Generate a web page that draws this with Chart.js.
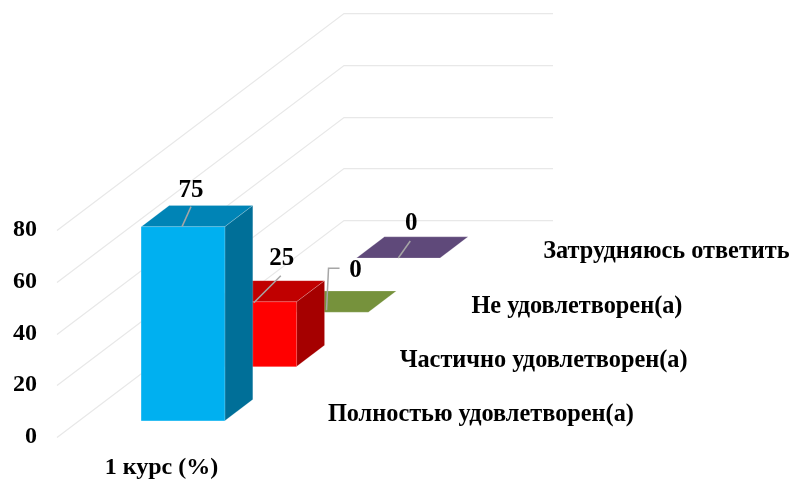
<!DOCTYPE html>
<html>
<head>
<meta charset="utf-8">
<title>1 курс (%)</title>
<script src="https://cdn.jsdelivr.net/npm/chart.js@4"></script>
<style>
  html, body { margin: 0; padding: 0; background: #fff; }
  #wrap { width: 792px; height: 481px; }
</style>
</head>
<body>
<div id="wrap"><canvas id="chart" width="792" height="481"></canvas></div>
<script>
const categories = ["1 курс (%)"];
const seriesNames = ["Полностью удовлетворен(а)", "Частично удовлетворен(а)", "Не удовлетворен(а)", "Затрудняюсь ответить"];
const seriesValues = [[75], [25], [0], [0]];
const yTicks = [0, 20, 40, 60, 80];

const frontColors = ["#00B0F0", "#FF0000", "#76923C", "#5F497A"];
const topColors = ["#0084B6", "#C00000", "#76923C", "#5F497A"];
const sideColors = ["#006F98", "#A50000", "#5C722E", "#4A3960"];

const FONT = '"Liberation Serif", "Times New Roman", serif';
const EDGE = "rgba(255,255,255,0.18)";

// fake 3D: the floor runs from the axis up and to the right
const floorX = 287, floorY = -217;
const slotX = floorX / seriesNames.length, slotY = floorY / seriesNames.length;
const gap = 0.3, barDepth = 0.39;

function slotOffset(i, frac) {
    return { x: slotX * (i + frac), y: slotY * (i + frac) };
}

// value label placing, relative to the middle of the bar's front top edge
const labelPlaces = [
    { dx: 7, dy: -36, line: [[-1, 0], [8, -20]] },
    { dx: 26, dy: -43, line: [[-1, 1], [26, -26]] },
    { dx: 28, dy: -42, line: [[0, -2], [2, -44], [13, -44]] },
    { dx: 12, dy: -34, line: [[0, 0], [12, -17]] }
];

function face(ctx, pts, color) {
    ctx.fillStyle = color;
    ctx.strokeStyle = EDGE;
    ctx.lineWidth = 1;
    ctx.beginPath();
    pts.forEach((pt, k) => k === 0 ? ctx.moveTo(pt[0], pt[1]) : ctx.lineTo(pt[0], pt[1]));
    ctx.closePath();
    ctx.fill();
    ctx.stroke();
}

const wall3d = {
    id: "wall3d",
    beforeDatasetsDraw(chart) {
        const { ctx, scales: { x, y } } = chart;
        ctx.save();
        ctx.strokeStyle = "#E8E8E8";
        ctx.lineWidth = 1.25;
        y.ticks.forEach((t, i) => {
            const py = Math.round(y.getPixelForTick(i)) + 0.5;
            ctx.beginPath();
            ctx.moveTo(x.left, py);
            ctx.lineTo(x.left + floorX, py + floorY);
            ctx.lineTo(x.right + floorX, py + floorY);
            ctx.stroke();
        });
        ctx.restore();
    },
    beforeDatasetDraw(chart, args) {
        const off = slotOffset(args.index, gap);
        chart.ctx.save();
        chart.ctx.translate(off.x, off.y);
    },
    afterDatasetDraw(chart, args) {
        const { ctx } = chart;
        const i = args.index;
        const dx = slotX * barDepth, dy = slotY * barDepth;
        args.meta.data.forEach(el => {
            const p = el.getProps(["x", "y", "base", "width"], true);
            const l = p.x - p.width / 2, r = p.x + p.width / 2;
            face(ctx, [[l, p.y], [l + dx, p.y + dy], [r + dx, p.y + dy], [r, p.y]], topColors[i]);
            if (p.base - p.y > 0) {
                face(ctx, [[r, p.y], [r + dx, p.y + dy], [r + dx, p.base + dy], [r, p.base]], sideColors[i]);
                face(ctx, [[l, p.y], [r, p.y], [r, p.base], [l, p.base]], frontColors[i]);
            }
        });
        ctx.restore();
    },
    afterDatasetsDraw(chart) {
        const { ctx, scales: { x, y } } = chart;
        ctx.save();
        ctx.textBaseline = "middle";
        chart.data.datasets.forEach((ds, i) => {
            const el = chart.getDatasetMeta(i).data[0];
            const off = slotOffset(i, gap);
            const px = el.x + off.x, py = el.y + off.y;
            const place = labelPlaces[i];

            ctx.strokeStyle = "#A6A6A6";
            ctx.lineWidth = 1.5;
            ctx.beginPath();
            place.line.forEach((pt, k) => {
                if (k === 0) ctx.moveTo(px + pt[0], py + pt[1]);
                else ctx.lineTo(px + pt[0], py + pt[1]);
            });
            ctx.stroke();

            ctx.fillStyle = "#000";
            ctx.font = "bold 25px " + FONT;
            ctx.textAlign = "center";
            ctx.fillText(String(ds.data[0]), px + place.dx + 1, py + place.dy);

            // series names run along the depth axis
            const nameOff = slotOffset(i, 0.5);
            ctx.font = "bold 24.3px " + FONT;
            ctx.textAlign = "left";
            ctx.fillText(ds.label, x.right + nameOff.x + 26, y.bottom + nameOff.y + 5);
        });
        ctx.restore();
    }
};

new Chart(document.getElementById("chart").getContext("2d"), {
    type: "bar",
    data: {
        labels: categories,
        datasets: seriesNames.map((name, i) => ({
            label: name,
            data: seriesValues[i],
            backgroundColor: frontColors[i],
            borderWidth: 0,
            clip: false
        }))
    },
    options: {
        responsive: false,
        animation: false,
        grouped: false,
        barPercentage: 0.4,
        categoryPercentage: 1,
        layout: { padding: { left: 0, right: 526, top: 230, bottom: 0 } },
        plugins: {
            legend: { display: false },
            title: { display: false },
            tooltip: { enabled: false }
        },
        scales: {
            x: {
                grid: { display: false },
                border: { display: false },
                afterFit(scale) { scale.height = 44; },
                ticks: {
                    color: "#000",
                    padding: 8,
                    font: { family: FONT, size: 24, weight: "bold" }
                }
            },
            y: {
                min: 0,
                max: yTicks[yTicks.length - 1],
                grid: { display: false },
                border: { display: false },
                afterFit(scale) { scale.width = 57; },
                ticks: {
                    stepSize: yTicks[1] - yTicks[0],
                    color: "#000",
                    padding: 12,
                    font: { family: FONT, size: 24, weight: "bold" }
                }
            }
        }
    },
    plugins: [wall3d]
});
</script>
</body>
</html>
